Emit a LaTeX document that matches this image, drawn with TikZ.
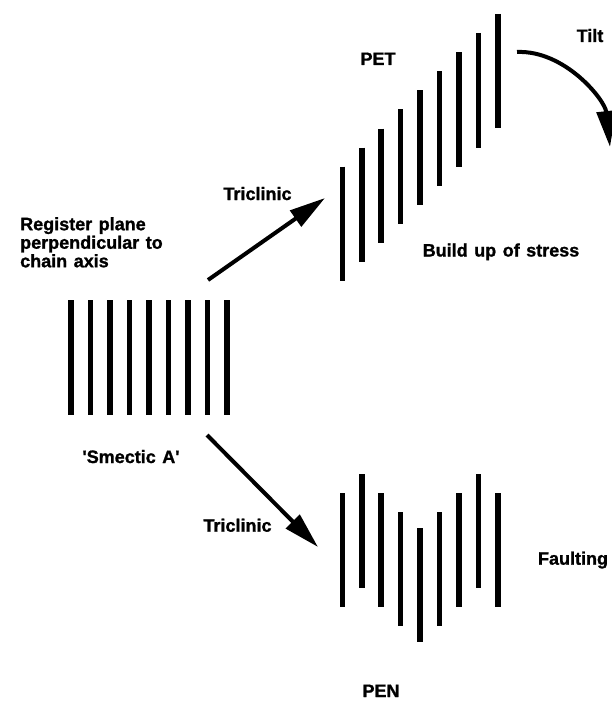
\documentclass[tikz,border=0pt]{standalone}
\usepackage{fontspec}
\setmainfont{Liberation Sans}[BoldFeatures={FakeBold=1.2,WordSpace=1.3}]
\usetikzlibrary{arrows.meta}
\begin{document}
\begin{tikzpicture}[x=1pt,y=-1pt,
  lbl/.style={font=\bfseries\fontsize{18}{18.5}\selectfont, inner sep=0pt, anchor=base},
  bar/.style={line width=5.5pt},
  arr/.style={line width=4pt, -{Triangle[length=36pt,width=19pt]}}]
\useasboundingbox (0,0) rectangle (612,701);
% smectic A stack
\foreach \i in {0,...,8}
  \draw[bar] ({71+19.5*\i},300) -- ++(0,115);
% PET stack
\foreach \i in {0,...,8}
  \draw[bar] ({342.3+19.45*\i},{166.7-19.1*\i}) -- ++(0,114.5);
% PEN stack
\foreach \i/\t in {0/493,1/474,2/493,3/512,4/528,5/512,6/493,7/474,8/493}
  \draw[bar] ({342.3+19.45*\i},\t) -- ++(0,114);
% labels
\node[lbl] (pet) at (378,65) {PET};
\node[lbl] (tilt) at (590,42) {Tilt};
\node[lbl] (stress) at (501,256.5) {Build up of stress};
\node[lbl] (tri1) at (257.5,200) {Triclinic};
\node[lbl, align=left, anchor=north west] (reg) at (20,217) {Register plane\\perpendicular to\\chain axis};
\node[lbl] (sma) at (131,463) {\textquotesingle Smectic A\textquotesingle};
\node[lbl] (tri2) at (237.5,531.7) {Triclinic};
\node[lbl] (fault) at (573,564.7) {Faulting};
\node[lbl] (pen) at (381,697) {PEN};
% arrows
\coordinate (a1s) at (208,280);
\coordinate (a1e) at (325,198);
\coordinate (a2s) at (207,435);
\coordinate (a2e) at (318,547);
\coordinate (ts) at (517,52);
\coordinate (te) at (610,147);
\draw[arr] (a1s) -- (a1e);
\draw[arr] (a2s) -- (a2e);
\draw[arr] (ts) .. controls (565,50) and (605,100) .. (te);
\end{tikzpicture}
\end{document}
